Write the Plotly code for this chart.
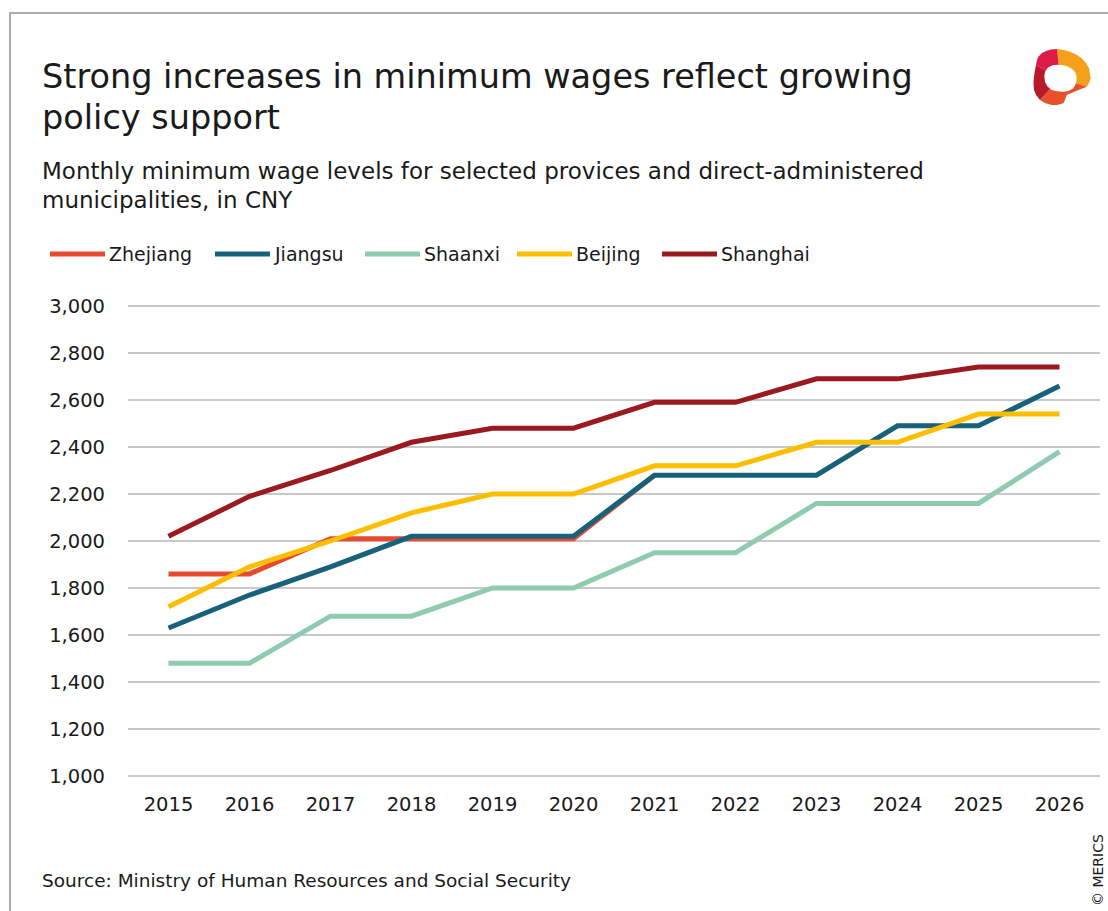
import plotly.graph_objects as go

# ---- data -------------------------------------------------------------
years = ["2015", "2016", "2017", "2018", "2019", "2020",
         "2021", "2022", "2023", "2024", "2025", "2026"]

zhejiang = [1860, 1860, 2010, 2010, 2010, 2010, 2280]
jiangsu = [1630, 1770, 1890, 2020, 2020, 2020, 2280, 2280, 2280, 2490, 2490, 2660]
shaanxi = [1480, 1480, 1680, 1680, 1800, 1800, 1950, 1950, 2160, 2160, 2160, 2380]
beijing = [1720, 1890, 2000, 2120, 2200, 2200, 2320, 2320, 2420, 2420, 2540, 2540]
shanghai = [2020, 2190, 2300, 2420, 2480, 2480, 2590, 2590, 2690, 2690, 2740, 2740]

series_names = ["Zhejiang", "Jiangsu", "Shaanxi", "Beijing", "Shanghai"]
series_values = [zhejiang, jiangsu, shaanxi, beijing, shanghai]
series_colors = ["#E84A2F", "#17627A", "#8FCBAE", "#FDBE00", "#9A1A1F"]

y_ticks = [1000, 1200, 1400, 1600, 1800, 2000, 2200, 2400, 2600, 2800, 3000]

# ---- layout helpers (pixel -> paper) ----------------------------------
W, H = 1108, 911
FONT = "DejaVu Sans"
INK = "#1a1a1a"


def px(x):
    return x / W


def py(y):
    return 1 - y / H


# y axis: 1,000 sits at 776 px and 3,000 at 306 px; the range is padded a
# little so both end grid lines are drawn inside the plot area
Y_LO, Y_HI, Y_PAD = 1000, 3000, 10
PX_PER_UNIT = (776 - 306) / (Y_HI - Y_LO)

fig = go.Figure()

for name, vals, color in zip(series_names, series_values, series_colors):
    fig.add_trace(go.Scatter(
        x=years[:len(vals)], y=vals, name=name, mode="lines",
        line=dict(color=color, width=5),
        showlegend=False, hoverinfo="x+y+name",
    ))

fig.update_layout(
    width=W, height=H, autosize=False,
    margin=dict(l=0, r=0, t=0, b=0, pad=0, autoexpand=False),
    paper_bgcolor="white", plot_bgcolor="white",
    font=dict(family=FONT, color=INK, size=19),
    xaxis=dict(
        type="category", domain=[px(128), px(1100)],
        range=[-0.5, len(years) - 0.5],
        showgrid=False, zeroline=False, showline=False,
        ticks="", ticklabelstandoff=12, automargin=False,
        tickfont=dict(size=19.5, color=INK),
    ),
    yaxis=dict(
        domain=[py(776 + Y_PAD * PX_PER_UNIT), py(306 - Y_PAD * PX_PER_UNIT)],
        range=[Y_LO - Y_PAD, Y_HI + Y_PAD],
        tickvals=y_ticks, tickformat=",",
        showgrid=True, gridcolor="#C8C8C8", gridwidth=1.5,
        zeroline=False, showline=False, automargin=False,
        ticks="", ticklabelstandoff=22,
        tickfont=dict(size=19.5, color=INK),
    ),
)

annotations = []
shapes = []

# Title and subtitle
for text, ymid, size in [
    ("Strong increases in minimum wages reflect growing", 76, 33.5),
    ("policy support", 117, 33.5),
    ("Monthly minimum wage levels for selected provices and direct-administered", 171, 23),
    ("municipalities, in CNY", 200, 23),
]:
    annotations.append(dict(
        text=text, x=px(40), y=py(ymid), xref="paper", yref="paper",
        xanchor="left", yanchor="middle", showarrow=False,
        font=dict(size=size, color=INK, family=FONT),
    ))

# Legend
legend_left = [50, 215, 365, 517, 662]
legend_y = 254
for name, color, lx in zip(series_names, series_colors, legend_left):
    shapes.append(dict(
        type="line", xref="paper", yref="paper",
        x0=px(lx), x1=px(lx + 55), y0=py(legend_y), y1=py(legend_y),
        line=dict(color=color, width=5),
    ))
    annotations.append(dict(
        text=name, x=px(lx + 57), y=py(legend_y), xref="paper", yref="paper",
        xanchor="left", yanchor="middle", showarrow=False,
        font=dict(size=19, color=INK, family=FONT),
    ))

# Source and copyright
annotations.append(dict(
    text="Source: Ministry of Human Resources and Social Security",
    x=px(40), y=py(880), xref="paper", yref="paper",
    xanchor="left", yanchor="middle", showarrow=False,
    font=dict(size=18.5, color=INK, family=FONT),
))
annotations.append(dict(
    text="© MERICS", textangle=-90,
    x=px(1098), y=py(870), xref="paper", yref="paper",
    xanchor="center", yanchor="middle", showarrow=False,
    font=dict(size=14, color=INK, family=FONT),
))

# Frame lines (top and left)
shapes.append(dict(type="line", xref="paper", yref="paper",
                   x0=px(10), x1=1, y0=py(13), y1=py(13),
                   line=dict(color="#ABABAB", width=2)))
shapes.append(dict(type="line", xref="paper", yref="paper",
                   x0=px(10), x1=px(10), y0=py(12), y1=0,
                   line=dict(color="#ABABAB", width=2)))


# Logo: a twisted ribbon ring in four colours with a white core
def path_from(points):
    parts = [f"{'M' if i == 0 else 'L'}{px(x):.5f},{py(y):.5f}"
             for i, (x, y) in enumerate(points)]
    return " ".join(parts) + " Z"


cx, cy = 1060, 78
logo_parts = [
    ("#F5A01A", [(cx, cy), (1057, 49), (1064, 50), (1070, 51.7), (1076, 54.5),
                 (1081.7, 58.3), (1086, 63), (1089, 68.3), (1090.7, 78.3),
                 (1089, 83), (1086.7, 86.7)]),
    ("#E8502C", [(cx, cy), (1086.7, 86.7), (1076, 91), (1066.7, 95), (1065, 100),
                 (1063.3, 103.3), (1057, 105), (1051.7, 105), (1045, 103),
                 (1040, 100)]),
    ("#B81A2C", [(cx, cy), (1040, 100), (1036, 95), (1034, 90), (1033.5, 83),
                 (1034, 76.7), (1035, 70), (1036, 65)]),
    ("#DE1A4A", [(cx, cy), (1036, 65), (1037, 60), (1038.3, 56.7), (1042, 53),
                 (1046.7, 50.7), (1051, 49.5), (1057, 49)]),
]
for color, pts in logo_parts:
    shapes.append(dict(type="path", xref="paper", yref="paper",
                       path=path_from(pts), fillcolor=color,
                       line=dict(width=0)))
hole = [(1045, 71.7), (1048, 67.5), (1053.3, 65), (1060, 64.8), (1066.7, 66),
        (1071.5, 68.5), (1075, 71.7), (1076.5, 76), (1076.7, 80), (1075.5, 84.5),
        (1073.3, 88.3), (1068.5, 91), (1063.3, 91.7), (1057, 91.3), (1051.7, 90),
        (1047.5, 86.5), (1045, 81.7), (1044.3, 76.5)]
shapes.append(dict(type="path", xref="paper", yref="paper",
                   path=path_from(hole), fillcolor="white",
                   line=dict(width=0)))

fig.update_layout(annotations=annotations, shapes=shapes)

fig.write_html("out.html")
